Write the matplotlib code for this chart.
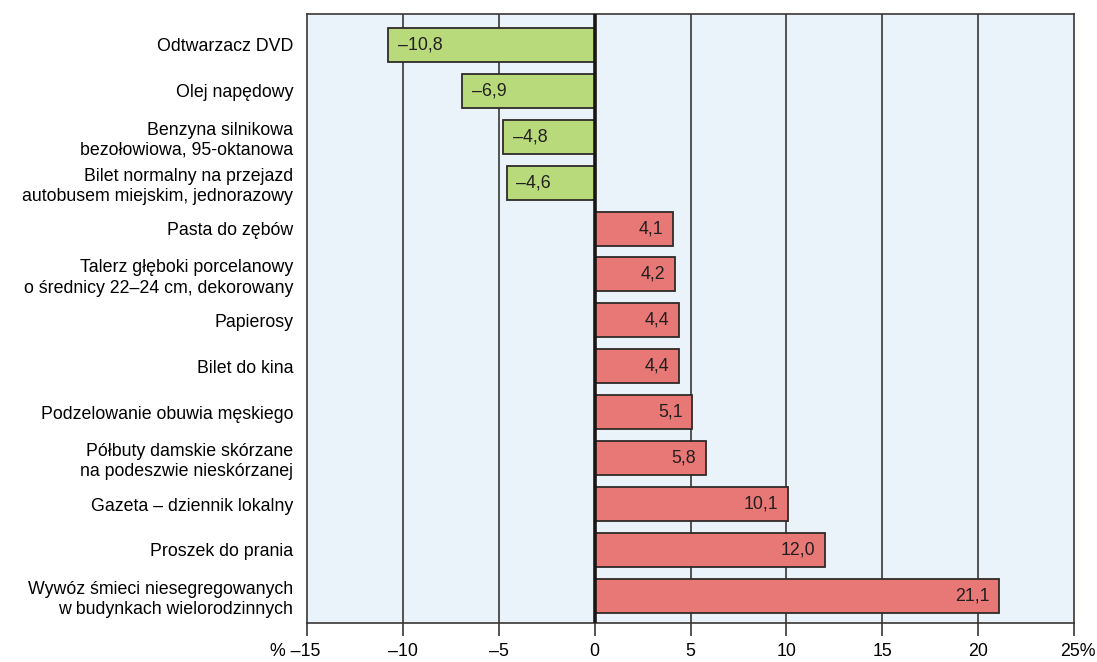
import numpy as np
import matplotlib
matplotlib.use("Agg")
import matplotlib.pyplot as plt

plt.rcParams['font.family'] = ['Liberation Sans', 'DejaVu Sans']

categories = [
    "Odtwarzacz DVD",
    "Olej napędowy",
    "Benzyna silnikowa\nbezołowiowa, 95-oktanowa",
    "Bilet normalny na przejazd\nautobusem miejskim, jednorazowy",
    "Pasta do zębów",
    "Talerz głęboki porcelanowy\no średnicy 22–24 cm, dekorowany",
    "Papierosy",
    "Bilet do kina",
    "Podzelowanie obuwia męskiego",
    "Półbuty damskie skórzane\nna podeszwie nieskórzanej",
    "Gazeta – dziennik lokalny",
    "Proszek do prania",
    "Wywóz śmieci niesegregowanych\nw budynkach wielorodzinnych",
]
values = [-10.8, -6.9, -4.8, -4.6, 4.1, 4.2, 4.4, 4.4, 5.1, 5.8, 10.1, 12.0, 21.1]
xticks = [-15, -10, -5, 0, 5, 10, 15, 20, 25]
xticklabels = ["", "–10", "–5", "0", "5", "10", "15", "20", ""]

green = "#b8da7b"
red = "#e87876"
edge = "#2f2a28"
fs = 12.8

fig = plt.figure(figsize=(10.97, 6.62), dpi=100)
ax = fig.add_axes([0.28, 0.059, 0.699, 0.92])
ax.set_facecolor("#eaf3fa")

y = np.arange(len(categories))
colors = [green if v < 0 else red for v in values]

for xv in [-10, -5, 5, 10, 15, 20]:
    ax.axvline(xv, color="#3a3634", lw=1.2, zorder=1)

ax.barh(y, values, height=0.74, color=colors, edgecolor=edge, linewidth=1.3, zorder=2)
ax.axvline(0, color="#1a1614", lw=2.6, zorder=3)

for yi, v in zip(y, values):
    txt = f"{abs(v):.1f}".replace(".", ",")
    if v < 0:
        ax.text(v + 0.52, yi, "–" + txt, ha="left", va="center", fontsize=fs, color="#231f20", zorder=4)
    else:
        ax.text(v - 0.5, yi, txt, ha="right", va="center", fontsize=fs, color="#231f20", zorder=4)

ax.set_xlim(-15, 25)
ax.set_ylim(len(categories) - 1 + 0.59, -0.675)
ax.set_yticks(y)
ax.set_yticklabels(categories, fontsize=fs, linespacing=1.25)
ax.tick_params(axis="y", length=0, pad=10)
ax.set_xticks(xticks)
ax.set_xticklabels(xticklabels, fontsize=fs)
ax.tick_params(axis="x", length=9.4, width=1.2, color="#3a3634", pad=4.8)

# end labels with the percent sign
ax.annotate("% –15", xy=(-14.32, 0), xycoords=("data", "axes fraction"),
            xytext=(0, -14.2), textcoords="offset points", ha="right", va="top", fontsize=fs)
ax.annotate("25%", xy=(24.27, 0), xycoords=("data", "axes fraction"),
            xytext=(0, -14.2), textcoords="offset points", ha="left", va="top", fontsize=fs)

for s in ax.spines.values():
    s.set_color("#3a3634")
    s.set_linewidth(1.2)

fig.savefig("out.png", dpi=100)
